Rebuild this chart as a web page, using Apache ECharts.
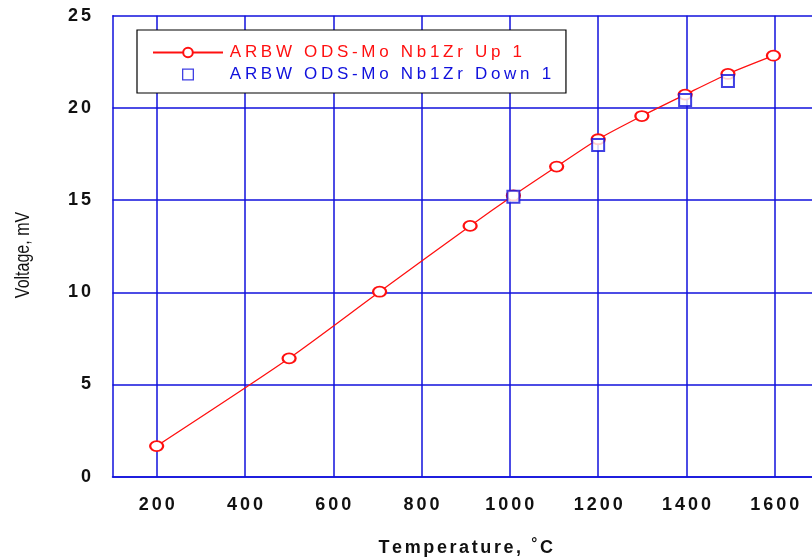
<!DOCTYPE html>
<html>
<head>
<meta charset="utf-8">
<script src="https://cdn.jsdelivr.net/npm/echarts@6/dist/echarts.min.js"></script>
<style>html,body{margin:0;padding:0;background:#fff;}#c{width:812px;height:558px;}</style>
</head>
<body>
<div id="c"></div>
<script>
// ---- data ----
const upName = 'ARBW ODS-Mo Nb1Zr Up 1';
const downName = 'ARBW ODS-Mo Nb1Zr Down 1';
const upTemps = [200, 500, 705, 910, 1008, 1106, 1200, 1299, 1397, 1494, 1597];
const upVolts = [1.66, 6.42, 10.03, 13.6, 15.25, 16.82, 18.3, 19.56, 20.72, 21.84, 22.83];
const downTemps = [1008, 1200, 1397, 1494];
const downVolts = [15.18, 17.99, 20.43, 21.46];
const xTicks = [200, 400, 600, 800, 1000, 1200, 1400, 1600];
const xTitle = 'Temperature, °C';
const yTitle = 'Voltage, mV';

const BLUE = '#1010dc';
const RED = '#ff1010';
const FONT = '"Liberation Sans", Arial, sans-serif';

function spaced(s, style) {
  return s.split('').map(function (c) { return '{' + style + '|' + c + '}'; }).join('');
}

const chart = echarts.init(document.getElementById('c'), null, { renderer: 'canvas' });
chart.setOption({
  backgroundColor: '#fff',
  animation: false,
  grid: { left: 112.5, top: 15.7, width: 706.4, height: 461, outerBoundsMode: 'none', containLabel: false },
  legend: {
    orient: 'vertical',
    left: 137, top: 30,
    padding: [14, 13, 10, 15],
    itemWidth: 70, itemHeight: 12, itemGap: 5,
    backgroundColor: '#fff',
    borderColor: '#000', borderWidth: 1.2,
    data: [
      { name: upName },
      { name: downName, icon: 'path://M0,0 L12,0 L12,12 L0,12 Z M1.3,1.3 L1.3,10.7 L10.7,10.7 L10.7,1.3 Z',
        itemStyle: { color: BLUE, borderWidth: 0 } }
    ],
    formatter: function (name) { return spaced(name, name === upName ? 'r' : 'b'); },
    textStyle: {
      rich: {
        r: { color: RED, fontSize: 17, fontFamily: FONT, padding: [0, 1.85, 0, 1.85], lineHeight: 18 },
        b: { color: BLUE, fontSize: 17, fontFamily: FONT, padding: [0, 1.85, 0, 1.85], lineHeight: 18 }
      }
    }
  },
  xAxis: {
    type: 'value', min: 100, max: 1700,
    name: spaced('Temperature, ', 't') + '{deg|°}' + '{t|C}',
    nameLocation: 'middle', nameGap: 61,
    nameTextStyle: {
      rich: {
        t: { fontSize: 18, fontWeight: 'bold', fontFamily: FONT, color: '#111', padding: [0, 1.3, 0, 1.3], lineHeight: 20 },
        deg: { fontSize: 15, fontWeight: 'bold', fontFamily: FONT, color: '#111', padding: [0, 1.3, 8, 1.3], lineHeight: 20 }
      }
    },
    axisLine: { show: true, lineStyle: { color: BLUE, width: 1.5 } },
    axisTick: { show: false, customValues: xTicks },
    splitLine: { show: true, lineStyle: { color: BLUE, width: 1.5 } },
    axisLabel: {
      customValues: xTicks, margin: 19,
      formatter: function (v) { return spaced(String(v), 'n'); },
      rich: { n: { fontSize: 18, fontWeight: 'bold', fontFamily: FONT, color: '#111', padding: [0, 1.5, 0, 1.5] } }
    }
  },
  yAxis: {
    type: 'value', min: 0, max: 25, interval: 5,
    axisLine: { show: true, lineStyle: { color: BLUE, width: 1.5 } },
    axisTick: { show: false },
    splitLine: { show: true, lineStyle: { color: BLUE, width: 1.5 } },
    axisLabel: {
      margin: 20,
      formatter: function (v) { return spaced(String(v), 'n'); },
      rich: { n: { fontSize: 18, fontWeight: 'bold', fontFamily: FONT, color: '#111', padding: [0, 1.5, 0, 1.5] } }
    }
  },
  graphic: [{
    type: 'text',
    x: 23, y: 255, rotation: Math.PI / 2, scaleX: 0.8,
    style: {
      text: yTitle, fontSize: 20, fontFamily: FONT,
      fill: '#111', align: 'center', verticalAlign: 'middle'
    }
  }],
  series: [{
    name: upName,
    type: 'line',
    data: upTemps.map(function (t, i) { return [t, upVolts[i]]; }),
    smooth: 0.25,
    symbol: 'emptyCircle', symbolSize: [13, 10],
    lineStyle: { color: RED, width: 1.3 },
    itemStyle: { color: RED, borderColor: RED, borderWidth: 1.4 },
    z: 3
  }, {
    name: downName,
    type: 'scatter',
    data: downTemps.map(function (t, i) { return [t, downVolts[i]]; }),
    symbol: 'emptyRect', symbolSize: 12,
    itemStyle: { color: BLUE, borderColor: BLUE, borderWidth: 1.6 },
    z: 4
  }]
});
</script>
</body>
</html>
